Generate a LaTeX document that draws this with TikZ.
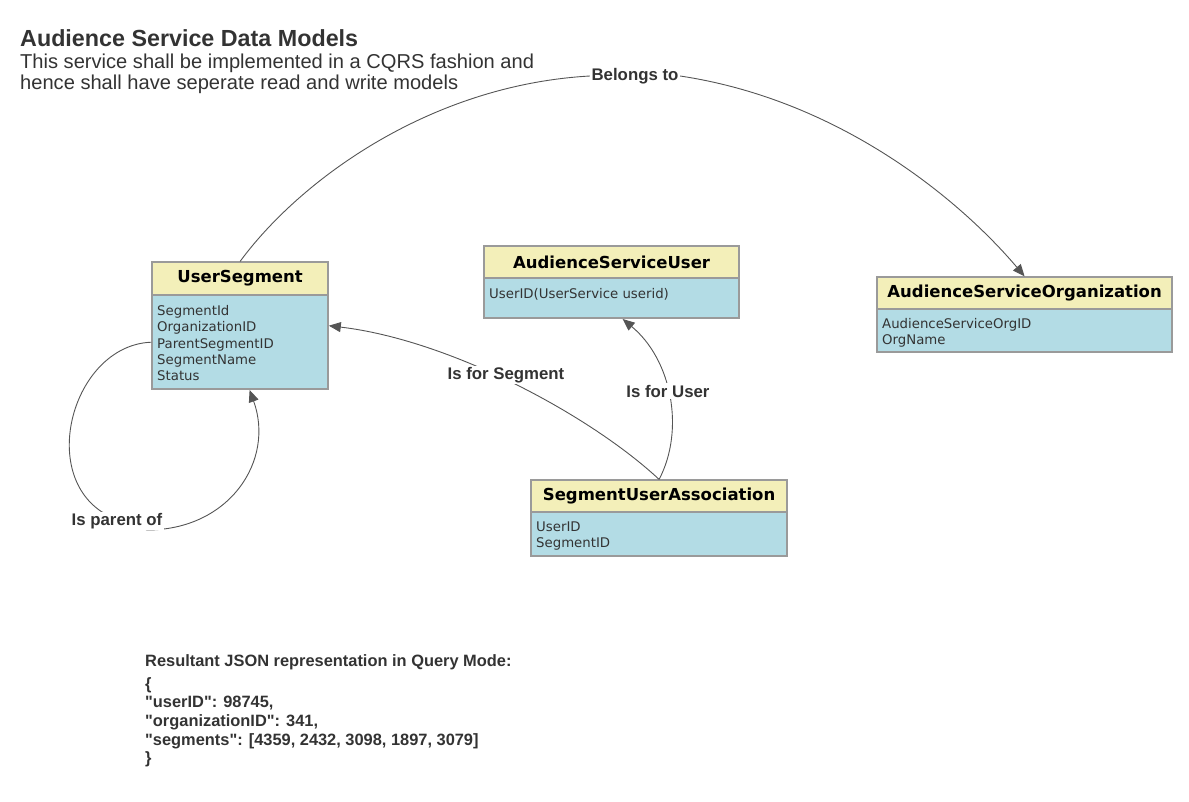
\documentclass[tikz,border=0pt]{standalone}
\usepackage{fontspec}
\setmainfont{Liberation Sans}
\newfontfamily\plainfont{Liberation Sans}
\newfontfamily\boxfont{DejaVu Sans}
\usetikzlibrary{arrows.meta,fit}
\definecolor{hdrfill}{HTML}{F3EFB9}
\definecolor{bdyfill}{HTML}{B3DCE5}
\definecolor{frame}{HTML}{9A9A9A}
\definecolor{conn}{HTML}{555555}
\definecolor{ink}{HTML}{333333}
\newcommand\fs[2]{\fontsize{#1pt}{#2pt}\selectfont}
% name, x, y, width, header height, body height, title, attributes, text drop
\newcommand\umlbox[9]{%
  \node[hdr, minimum width=#4pt, minimum height=#5pt, anchor=north west] (#1h) at (#2,#3) {#7};
  \node[bdy, minimum width=#4pt, minimum height=#6pt, anchor=north west] (#1b) at (#1h.south west) {};
  \node[attr, anchor=north west] (#1t) at ([xshift=5pt,yshift=-#9pt]#1b.north west) {#8};
  \node[frm, fit=(#1h)(#1b)] (#1) {};
}
\begin{document}
\begin{tikzpicture}[x=1pt,y=-1pt,
  hdr/.style={draw=frame, line width=1.2pt, fill=hdrfill, inner sep=0pt,
    font=\boxfont\bfseries\fs{16.5}{20}, text=black},
  bdy/.style={draw=frame, line width=1.2pt, fill=bdyfill, inner sep=0pt},
  attr/.style={inner sep=0pt, align=left, font=\boxfont\fs{13.3}{16.25}, text=ink},
  frm/.style={draw=frame, line width=1.2pt, inner sep=0pt},
  rel/.style={draw=conn, line width=0.9pt, -{Triangle[length=12pt,width=10pt]}},
  lbl/.style={fill=white, inner sep=1.5pt, font=\bfseries\fs{16.8}{20}, text=ink},
  jsn/.style={inner sep=0pt, anchor=base west, font=\plainfont\bfseries\fs{16.4}{19}, text=ink},
  ttl/.style={inner sep=0pt, anchor=base west, text=ink}]
\useasboundingbox (0,0) rectangle (1189,802);

% titles
\node[ttl, font=\bfseries\fs{23.3}{26}] (title) at (20,47) {Audience Service Data Models};
\node[ttl, font=\fs{20.1}{21}] (sub1) at (20,69) {This service shall be implemented in a CQRS fashion and};
\node[ttl, font=\fs{20.1}{21}] (sub2) at (20,90) {hence shall have seperate read and write models};

% boxes
\umlbox{us}{152}{262}{175}{32}{93}{UserSegment}{SegmentId\\OrganizationID\\ParentSegmentID\\SegmentName\\Status}{10}
\umlbox{asu}{484}{246}{254}{31}{39}{AudienceServiceUser}{UserID(UserService userid)}{10}
\umlbox{aso}{877}{277}{294}{31}{42}{AudienceServiceOrganization}{AudienceServiceOrgID\\OrgName}{9}
\umlbox{sua}{531}{480}{255}{31}{43}{SegmentUserAssociation}{UserID\\SegmentID}{9}

% Belongs to
\node[lbl] (lbBel) at (635,76) {Belongs to};
\draw[rel] (us.north) .. controls (300,180) and (430,85) .. (lbBel.west)
  (lbBel.east) .. controls (840,100) and (960,200) .. (aso.north);

% Is for Segment
\draw[rel] (sua.north) .. controls (590,415) and (450,340) .. (us.east);
\node[lbl] (lbSeg) at (506,375) {Is for Segment};

% Is for User
\draw[rel] (sua.north) .. controls (685,430) and (672,360) .. ([xshift=11pt]asu.south);
\node[lbl] (lbUser) at (668,391) {Is for User};

% Is parent of
\draw[rel] ([yshift=-16.5pt]us.west) .. controls (75,345) and (38,470) .. (102,512)
  -- (147,530) .. controls (230,530) and (275,460) .. ([xshift=9.5pt]us.south);
\node[lbl] (lbPar) at (117,521) {Is parent of};

% JSON
\node[jsn] (j0) at (145,666) {Resultant JSON representation in Query Mode:};
\node[jsn] (j1) at (145,689) {\{};
\node[jsn] (j2) at (145,707) {"userID": 98745,};
\node[jsn] (j3) at (145,726) {"organizationID": 341,};
\node[jsn] (j4) at (145,745) {"segments": [4359, 2432, 3098, 1897, 3079]};
\node[jsn] (j5) at (145,763) {\}};
\end{tikzpicture}
\end{document}
